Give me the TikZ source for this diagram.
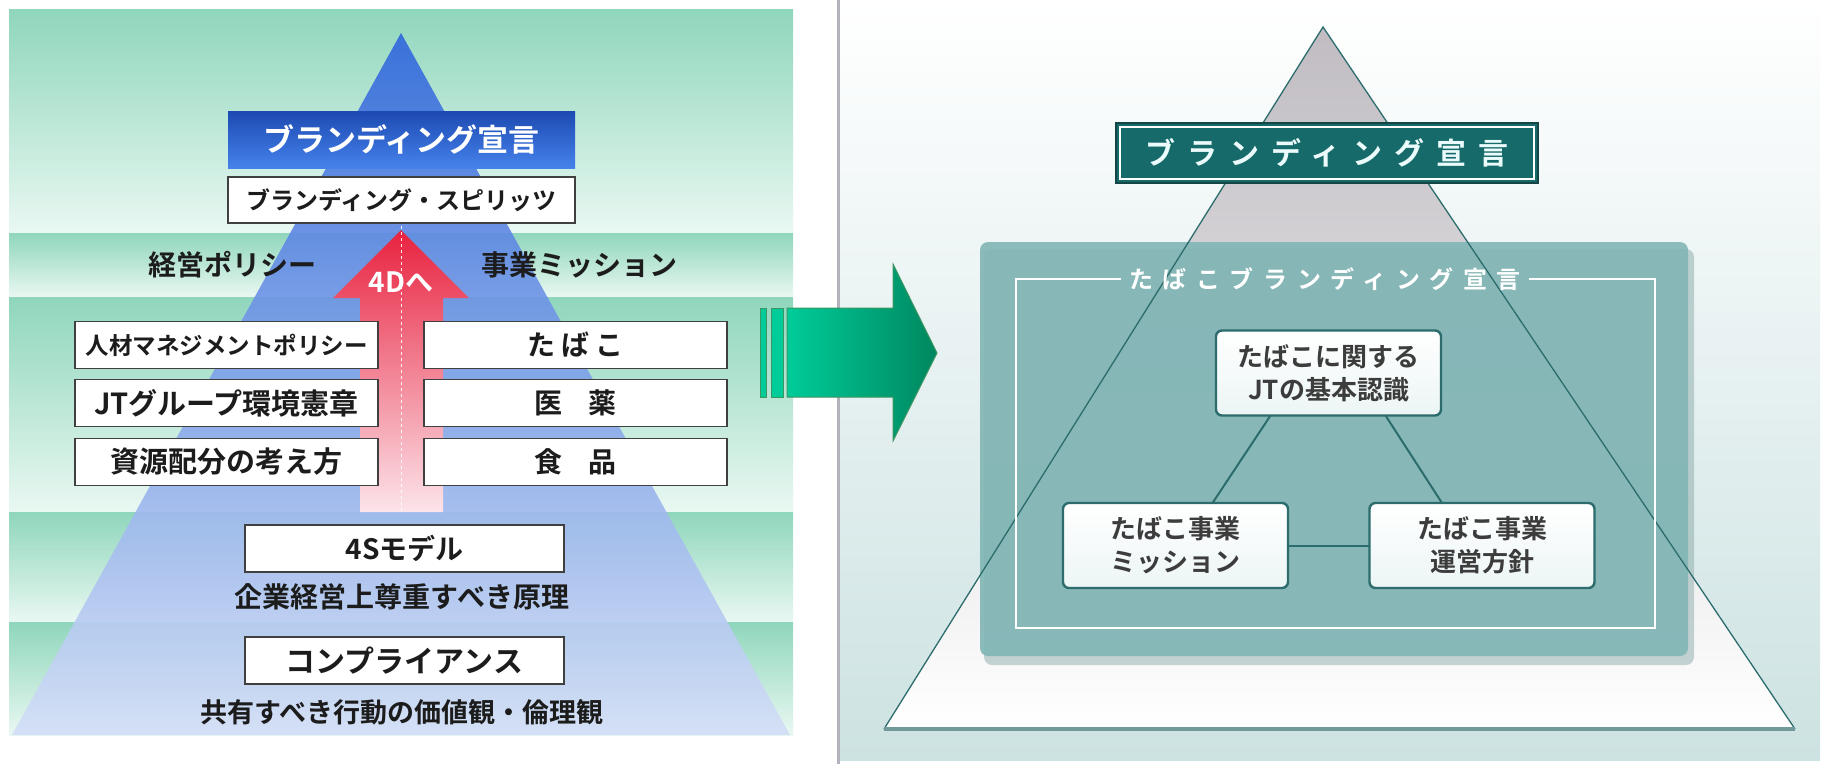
\documentclass[tikz,border=0pt]{standalone}
\usepackage{fontspec}
\setmainfont{Noto Sans CJK JP}[BoldFont={Noto Sans CJK JP Bold}]
\newfontfamily\jpsp{Noto Sans CJK JP Bold}[LetterSpace=40]
\newfontfamily\jpspb{Noto Sans CJK JP Bold}[LetterSpace=22]
\usetikzlibrary{calc}
\definecolor{bandg}{HTML}{8FD6BC}
\definecolor{bandw}{HTML}{E9F8F2}
\definecolor{triblue}{HTML}{3066DC}
\definecolor{trimid}{HTML}{6A8EE8}
\definecolor{tripale}{HTML}{D3DEF7}
\definecolor{ink}{HTML}{1C1C1C}
\definecolor{arrred}{HTML}{E8223F}
\definecolor{arrmid}{HTML}{F2809A}
\definecolor{arrpink}{HTML}{FCE4EA}
\definecolor{tealdark}{HTML}{176A6A}
\definecolor{tealline}{HTML}{2C6C6C}
\definecolor{panelteal}{HTML}{83B6B6}
\definecolor{nodeink}{HTML}{3C3C3C}
\definecolor{garrL}{HTML}{00CC99}
\definecolor{garrR}{HTML}{00875F}
\definecolor{garrE}{HTML}{3C9664}
\definecolor{rpbot}{HTML}{CDE2E2}
\definecolor{rpline}{HTML}{B2B2BA}
\definecolor{trigrey}{HTML}{C0BCC2}
\definecolor{trimidg}{HTML}{E1E1E4}
\definecolor{basecol}{HTML}{739A9A}
\definecolor{shadowc}{HTML}{8CAAAA}
\definecolor{ltop}{HTML}{1C4AB2}
\definecolor{lbot}{HTML}{4682EB}
\definecolor{rtborder}{HTML}{144646}
\definecolor{rttext}{HTML}{EBFAFA}
\definecolor{nodebot}{HTML}{ECF5F5}
\begin{document}
\begin{tikzpicture}[x=1pt,y=-1pt,
  every node/.style={inner sep=0pt,outer sep=0pt},
  band/.style={top color=bandg,bottom color=bandw},
  wbox/.style={draw=black!75,line width=1.8pt,fill=white,text=ink},
  lbl/.style={text=ink},
  rnode/.style={draw=tealline,line width=2.4pt,rounded corners=6pt,top color=white,bottom color=nodebot,text=nodeink,font=\bfseries\fontsize{26}{33}\selectfont,align=center,minimum width=225pt,minimum height=85pt},
  conn/.style={draw=tealline,line width=2pt}
]
\useasboundingbox (0,0) rectangle (1823,764);
\fill[white] (0,0) rectangle (1823,764);

% ---------- left panel ----------
\shade[band] (9,9) rectangle (793,233);
\shade[band] (9,233) rectangle (793,297);
\shade[band] (9,297) rectangle (793,512);
\shade[band] (9,512) rectangle (793,622);
\shade[band] (9,622) rectangle (793,735);

\shade[top color=triblue,middle color=trimid,bottom color=tripale,fill opacity=0.9]
  (401,33) -- (790,735) -- (12,735) -- cycle;

\shade[top color=arrred,middle color=arrmid,bottom color=arrpink]
  (401,230) -- (469,298) -- (443,298) -- (443,512) -- (360,512) -- (360,298) -- (333,298) -- cycle;
\coordinate (dtop) at (401,226);
\coordinate (dbot) at (401,512);
\draw[white,line width=1pt,dash pattern=on 3pt off 3pt,opacity=0.9] (dtop) -- (dbot);

\node[minimum width=347pt,minimum height=57pt,top color=ltop,bottom color=lbot,text=white,
  font=\bfseries\fontsize{31}{31}\selectfont] (ltitle) at (401.5,139.5) {ブランディング宣言};
\node[wbox,minimum width=347pt,minimum height=46pt,font=\bfseries\fontsize{24}{24}\selectfont]
  (spirit) at (401.5,200) {ブランディング・スピリッツ};

\node[lbl,font=\bfseries\fontsize{28}{28}\selectfont] (keiei) at (232,265) {経営ポリシー};
\node[lbl,font=\bfseries\fontsize{28}{28}\selectfont] (jigyo) at (579,265) {事業ミッション};
\node[text=white,font=\bfseries\fontsize{28}{28}\selectfont] (fourd) at (401,282) {4Dへ};

\node[wbox,minimum width=303pt,minimum height=47pt,font=\bfseries\fontsize{23.5}{23.5}\selectfont] (l1) at (226.5,345) {人材マネジメントポリシー};
\node[wbox,minimum width=303pt,minimum height=47pt,font=\bfseries\fontsize{29}{29}\selectfont] (l2) at (226.5,403) {JTグループ環境憲章};
\node[wbox,minimum width=303pt,minimum height=47pt,font=\bfseries\fontsize{29}{29}\selectfont] (l3) at (226.5,462) {資源配分の考え方};
\node[wbox,minimum width=303pt,minimum height=47pt,font=\jpspb\fontsize{28}{28}\selectfont] (r1) at (575.5,345) {たばこ};
\node[wbox,minimum width=303pt,minimum height=47pt,font=\bfseries\fontsize{28}{28}\selectfont] (r2) at (575.5,403) {医\hspace{0.95em}薬};
\node[wbox,minimum width=303pt,minimum height=47pt,font=\bfseries\fontsize{28}{28}\selectfont] (r3) at (575.5,462) {食\hspace{0.95em}品};

\node[wbox,minimum width=319pt,minimum height=47pt,font=\bfseries\fontsize{28}{28}\selectfont] (s4) at (404.5,548.5) {4Sモデル};
\node[lbl,font=\bfseries\fontsize{28}{28}\selectfont] (s4t) at (402,597) {企業経営上尊重すべき原理};
\node[wbox,minimum width=319pt,minimum height=47pt,font=\bfseries\fontsize{30}{30}\selectfont] (comp) at (404.5,660.5) {コンプライアンス};
\node[lbl,font=\bfseries\fontsize{27}{27}\selectfont] (compt) at (402,712) {共有すべき行動の価値観・倫理観};

% ---------- right panel ----------
\shade[top color=white,bottom color=rpbot] (840,2) rectangle (1820,760);
\draw[rpline,line width=3pt] (838,0) -- (838,764);

\shade[top color=trigrey,middle color=trimidg,bottom color=white]
  (1323,27) -- (1795,729) -- (884,729) -- cycle;

\fill[shadowc,opacity=0.5,rounded corners=8pt] (984,249) rectangle (1694,665);
\fill[panelteal,rounded corners=8pt,fill opacity=0.92] (980,242) rectangle (1688,656);

\draw[tealline,line width=1.3pt] (884,729) -- (1323,27) -- (1795,729);
\draw[basecol,line width=3.5pt] (884,729) -- (1795,729);

\node[fill=tealdark,draw=rtborder,line width=1.5pt,minimum width=422pt,minimum height=60pt,
  text=rttext,font=\jpsp\fontsize{30}{30}\selectfont] (rtitle) at (1327,153) {ブランディング宣言};
\draw[white,line width=1.5pt] ([shift={(4pt,-4pt)}]rtitle.north west) rectangle ([shift={(-4pt,4pt)}]rtitle.south east);

\node[text=white,inner xsep=8pt,font=\jpsp\fontsize{24}{24}\selectfont] (sub) at (1325,279) {たばこブランディング宣言};
\draw[white,line width=2pt] (sub.west) -| (1016,628) -| (1655,279) -- (sub.east);

\node[rnode] (kihon) at (1328.5,373) {たばこに関する\\JTの基本認識};
\node[rnode] (mission) at (1175.5,545.5) {たばこ事業\\ミッション};
\node[rnode] (unei) at (1482,545.5) {たばこ事業\\運営方針};
\draw[conn] ([xshift=-58pt]kihon.south) -- ([xshift=37pt]mission.north);
\draw[conn] ([xshift=57pt]kihon.south) -- ([xshift=-40pt]unei.north);
\draw[conn] (mission.east) -- (unei.west);

% ---------- green arrow ----------
\filldraw[fill=garrL,draw=garrE,line width=1pt] (760,308) rectangle (766,397);
\filldraw[fill=garrL,draw=garrE,line width=1pt] (771,308) rectangle (783,397);
\shade[left color=garrL,right color=garrR,draw=garrE,line width=1pt]
  (787,308) -- (893,308) -- (893,264) -- (937,353) -- (893,441) -- (893,397) -- (787,397) -- cycle;
\end{tikzpicture}
\end{document}
